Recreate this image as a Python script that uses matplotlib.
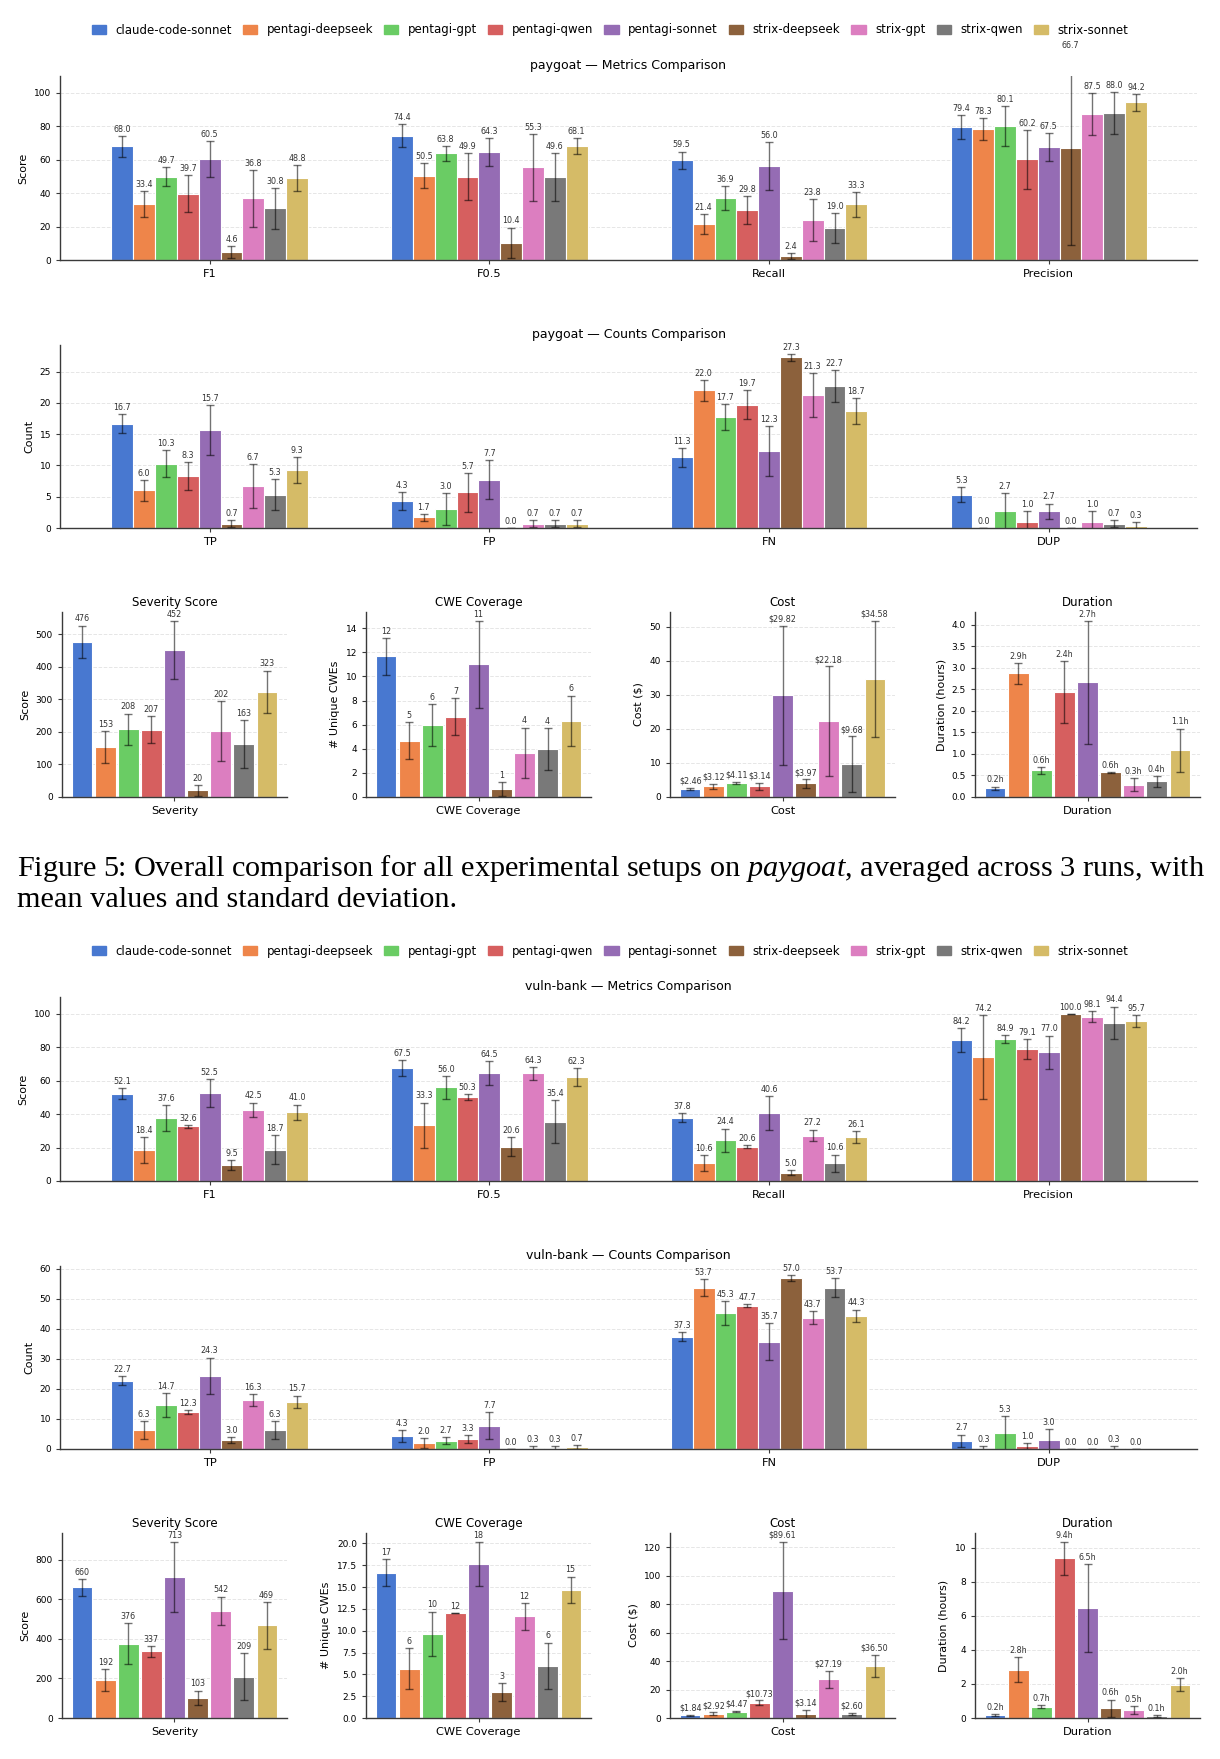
import matplotlib
matplotlib.use("Agg")
import matplotlib.pyplot as plt
import numpy as np

plt.rcParams['font.family'] = ['DejaVu Sans']
plt.rcParams['mathtext.fontset'] = 'custom'
plt.rcParams['mathtext.rm'] = 'Liberation Serif'
plt.rcParams['mathtext.it'] = 'Liberation Serif:italic'

setups = ["claude-code-sonnet", "pentagi-deepseek", "pentagi-gpt", "pentagi-qwen",
          "pentagi-sonnet", "strix-deepseek", "strix-gpt", "strix-qwen", "strix-sonnet"]
colors = ["#4878D0", "#EE854A", "#6ACC64", "#D65F5F", "#956CB4",
          "#8C613C", "#DC7EC0", "#797979", "#D5BB67"]

metric_names = ["F1", "F0.5", "Recall", "Precision"]
count_names = ["TP", "FP", "FN", "DUP"]

# ---------------- paygoat ----------------
pg_f1 = [68.0, 33.4, 49.7, 39.7, 60.5, 4.6, 36.8, 30.8, 48.8]
pg_f1_std = [6.3, 7.6, 5.7, 11.0, 10.8, 3.7, 16.9, 12.2, 7.8]
pg_f05 = [74.4, 50.5, 63.8, 49.9, 64.3, 10.4, 55.3, 49.6, 68.1]
pg_f05_std = [7.0, 7.3, 4.5, 14.1, 8.4, 9.0, 19.9, 14.4, 5.0]
pg_recall = [59.5, 21.4, 36.9, 29.8, 56.0, 2.4, 23.8, 19.0, 33.3]
pg_recall_std = [5.3, 6.1, 7.3, 8.2, 14.3, 1.8, 12.6, 9.1, 7.5]
pg_precision = [79.4, 78.3, 80.1, 60.2, 67.5, 66.7, 87.5, 88.0, 94.2]
pg_precision_std = [7.1, 6.3, 11.8, 17.6, 8.5, 57.7, 12.5, 12.6, 5.2]

pg_tp = [16.7, 6.0, 10.3, 8.3, 15.7, 0.7, 6.7, 5.3, 9.3]
pg_tp_std = [1.5, 1.7, 2.1, 2.3, 4.0, 0.58, 3.5, 2.5, 2.1]
pg_fp = [4.3, 1.7, 3.0, 5.7, 7.7, 0.0, 0.7, 0.7, 0.7]
pg_fp_std = [1.5, 0.58, 2.6, 3.1, 3.1, 0.0, 0.58, 0.58, 0.58]
pg_fn = [11.3, 22.0, 17.7, 19.7, 12.3, 27.3, 21.3, 22.7, 18.7]
pg_fn_std = [1.5, 1.7, 2.1, 2.3, 4.0, 0.58, 3.5, 2.5, 2.1]
pg_dup = [5.3, 0.0, 2.7, 1.0, 2.7, 0.0, 1.0, 0.7, 0.3]
pg_dup_std = [1.2, 0.0, 2.9, 1.7, 1.2, 0.0, 1.7, 0.58, 0.58]

pg_severity = [476, 153, 208, 207, 452, 20, 202, 163, 323]
pg_severity_std = [50, 50, 48, 41, 89, 17, 92, 73, 65]
pg_cwe = [11.67, 4.67, 6.0, 6.67, 11.0, 0.67, 3.67, 4.0, 6.33]
pg_cwe_std = [1.53, 1.53, 1.73, 1.53, 3.61, 0.58, 2.08, 1.73, 2.08]
pg_cost = [2.46, 3.12, 4.11, 3.14, 29.82, 3.97, 22.18, 9.68, 34.58]
pg_cost_std = [0.3, 0.7, 0.4, 1.0, 20.4, 1.2, 16.1, 8.1, 17.1]
pg_duration = [0.2, 2.87, 0.62, 2.43, 2.66, 0.57, 0.29, 0.36, 1.08]
pg_duration_std = [0.04, 0.24, 0.08, 0.72, 1.43, 0.01, 0.14, 0.13, 0.51]

# ---------------- vuln-bank ----------------
vb_f1 = [52.1, 18.4, 37.6, 32.6, 52.5, 9.5, 42.5, 18.7, 41.0]
vb_f1_std = [3.2, 7.9, 7.7, 0.9, 8.3, 3.2, 4.4, 8.6, 4.7]
vb_f05 = [67.5, 33.3, 56.0, 50.3, 64.5, 20.6, 64.3, 35.4, 62.3]
vb_f05_std = [4.8, 13.6, 6.8, 1.8, 7.0, 5.7, 4.0, 12.9, 5.4]
vb_recall = [37.8, 10.6, 24.4, 20.6, 40.6, 5.0, 27.2, 10.6, 26.1]
vb_recall_std = [2.6, 4.8, 6.9, 0.8, 10.1, 1.7, 3.5, 5.2, 3.6]
vb_precision = [84.2, 74.2, 84.9, 79.1, 77.0, 100.0, 98.1, 94.4, 95.7]
vb_precision_std = [7.3, 25.0, 2.4, 5.9, 9.9, 0.0, 3.3, 9.8, 3.5]

vb_tp = [22.7, 6.3, 14.7, 12.3, 24.3, 3.0, 16.3, 6.3, 15.7]
vb_tp_std = [1.5, 2.9, 4.0, 0.6, 6.1, 1.0, 2.1, 3.1, 2.1]
vb_fp = [4.3, 2.0, 2.7, 3.3, 7.7, 0.0, 0.3, 0.3, 0.7]
vb_fp_std = [2.1, 1.7, 1.2, 1.2, 4.5, 0.0, 0.58, 0.58, 0.58]
vb_fn = [37.3, 53.7, 45.3, 47.7, 35.7, 57.0, 43.7, 53.7, 44.3]
vb_fn_std = [1.5, 2.9, 4.0, 0.6, 6.1, 1.0, 2.1, 3.1, 2.1]
vb_dup = [2.7, 0.3, 5.3, 1.0, 3.0, 0.0, 0.0, 0.3, 0.0]
vb_dup_std = [2.1, 0.58, 5.7, 1.0, 3.6, 0.0, 0.0, 0.58, 0.0]

vb_severity = [660, 192, 376, 337, 713, 103, 542, 209, 469]
vb_severity_std = [42, 54, 105, 28, 177, 35, 71, 119, 118]
vb_cwe = [16.67, 5.67, 9.67, 12.0, 17.67, 3.0, 11.67, 6.0, 14.67]
vb_cwe_std = [1.53, 2.31, 2.52, 0.0, 2.52, 1.0, 1.53, 2.65, 1.53]
vb_cost = [1.84, 2.92, 4.47, 10.73, 89.61, 3.14, 27.19, 2.60, 36.50]
vb_cost_std = [0.3, 1.0, 0.6, 1.6, 34.3, 2.8, 5.9, 0.8, 8.0]
vb_duration = [0.17, 2.83, 0.66, 9.37, 6.47, 0.56, 0.46, 0.12, 1.96]
vb_duration_std = [0.04, 0.73, 0.08, 0.98, 2.57, 0.52, 0.22, 0.05, 0.38]

W, H = 1220, 1759
fig = plt.figure(figsize=(W / 100, H / 100), dpi=100)


def rect(x0, x1, ytop, ybot):
    return [x0 / W, 1 - ybot / H, (x1 - x0) / W, (ybot - ytop) / H]


SPINE = "#3a3a3a"
ERR_KW = dict(elinewidth=1.0, ecolor="black", alpha=0.55, capthick=1.0)
BAR_ALPHA = 1.0


def style(ax):
    for s in ("top", "right"):
        ax.spines[s].set_visible(False)
    for s in ("left", "bottom"):
        ax.spines[s].set_color(SPINE)
        ax.spines[s].set_linewidth(1.0)
    ax.yaxis.grid(True, linestyle="--", color="gray", alpha=0.2, linewidth=0.7)
    ax.set_axisbelow(True)
    ax.tick_params(axis="y", labelsize=6.5, length=3, color=SPINE)
    ax.tick_params(axis="x", labelsize=8.2, length=3, color=SPINE)


def grouped(ax, means, stds, names, ylabel, title, ylim=None):
    n = len(setups)
    w = 0.078
    x = np.arange(len(names))
    tops = [m[j] + s[j] for m, s in zip(means, stds) for j in range(n)]
    top = ylim if ylim is not None else max(tops) * 1.05
    for j in range(n):
        pos = x + (j - (n - 1) / 2) * w
        vals = [m[j] for m in means]
        errs = [s[j] for s in stds]
        ax.bar(pos, vals, w, yerr=errs, color=colors[j], edgecolor="white",
               linewidth=0.8, alpha=BAR_ALPHA, capsize=3.2, error_kw=ERR_KW, label=setups[j])
        for p, v, e in zip(pos, vals, errs):
            ax.text(p, v + e + top * 0.012, f"{v:.1f}", ha="center", va="bottom",
                    fontsize=5.8, color="#333333")
    ax.set_ylim(0, top)
    ax.set_xlim(-0.535, len(names) - 1 + 0.53)
    ax.set_xticks(x)
    ax.set_xticklabels(names)
    ax.set_ylabel(ylabel, fontsize=8)
    ax.set_title(title, fontsize=9, pad=5)
    style(ax)


def single(ax, means, stds, fmt, title, xlabel, ylabel):
    x = np.arange(len(setups))
    ax.bar(x, means, 0.88, yerr=stds, color=colors, edgecolor="white", linewidth=0.8,
           alpha=BAR_ALPHA, capsize=3.2, error_kw=ERR_KW)
    top = max(m + s for m, s in zip(means, stds)) * 1.05
    for p, v, e in zip(x, means, stds):
        ax.text(p, v + e + top * 0.012, fmt(v), ha="center", va="bottom",
                fontsize=5.8, color="#333333")
    ax.set_ylim(0, top)
    ax.set_xticks([(len(setups) - 1) / 2])
    ax.set_xticklabels([xlabel])
    ax.set_ylabel(ylabel, fontsize=8)
    ax.set_title(title, fontsize=8.5, pad=4)
    style(ax)


def block(name, y0, metrics, metric_stds, counts, count_stds, small):
    handles = [plt.Rectangle((0, 0), 1, 1, color=c, alpha=BAR_ALPHA) for c in colors]
    fig.legend(handles, setups, loc="center", bbox_to_anchor=(0.5, 1 - (y0 + 30) / H),
               ncol=9, frameon=False, fontsize=8.5, handlelength=1.2, handleheight=0.8,
               columnspacing=0.95, handletextpad=0.8)
    ax1 = fig.add_axes(rect(60, 1197, y0 + 76, y0 + 260))
    grouped(ax1, metrics, metric_stds, metric_names, "Score",
            f"{name} \u2014 Metrics Comparison", ylim=110)
    ax2 = fig.add_axes(rect(60, 1197, y0 + 345, y0 + 528))
    grouped(ax2, counts, count_stds, count_names, "Count",
            f"{name} \u2014 Counts Comparison")
    lefts = [62, 366, 670, 975]
    for (m, s, fmt, t, xl, yl), lx in zip(small, lefts):
        ax = fig.add_axes(rect(lx, lx + 225, y0 + 612, y0 + 797))
        single(ax, m, s, fmt, t, xl, yl)


fmt_int = lambda v: f"{v:.0f}"
fmt_cost = lambda v: f"\\${v:.2f}"
fmt_hour = lambda v: f"{v:.1f}h"

block("paygoat", 0,
      [pg_f1, pg_f05, pg_recall, pg_precision],
      [pg_f1_std, pg_f05_std, pg_recall_std, pg_precision_std],
      [pg_tp, pg_fp, pg_fn, pg_dup],
      [pg_tp_std, pg_fp_std, pg_fn_std, pg_dup_std],
      [(pg_severity, pg_severity_std, fmt_int, "Severity Score", "Severity", "Score"),
       (pg_cwe, pg_cwe_std, fmt_int, "CWE Coverage", "CWE Coverage", "# Unique CWEs"),
       (pg_cost, pg_cost_std, fmt_cost, "Cost", "Cost", "Cost (\\$)"),
       (pg_duration, pg_duration_std, fmt_hour, "Duration", "Duration", "Duration (hours)")])

block("vuln-bank", 921,
      [vb_f1, vb_f05, vb_recall, vb_precision],
      [vb_f1_std, vb_f05_std, vb_recall_std, vb_precision_std],
      [vb_tp, vb_fp, vb_fn, vb_dup],
      [vb_tp_std, vb_fp_std, vb_fn_std, vb_dup_std],
      [(vb_severity, vb_severity_std, fmt_int, "Severity Score", "Severity", "Score"),
       (vb_cwe, vb_cwe_std, fmt_int, "CWE Coverage", "CWE Coverage", "# Unique CWEs"),
       (vb_cost, vb_cost_std, fmt_cost, "Cost", "Cost", "Cost (\\$)"),
       (vb_duration, vb_duration_std, fmt_hour, "Duration", "Duration", "Duration (hours)")])

caption1 = ("Figure 5: Overall comparison for all experimental setups on "
            r"$\mathit{paygoat}$, averaged across 3 runs, with")
caption2 = "mean values and standard deviation."
fig.text(17 / W, 1 - 876 / H, caption1, fontsize=21.8, family="Liberation Serif",
         ha="left", va="baseline")
fig.text(17 / W, 1 - 907 / H, caption2, fontsize=21.8, family="Liberation Serif",
         ha="left", va="baseline")

fig.savefig("out.png", dpi=100)
